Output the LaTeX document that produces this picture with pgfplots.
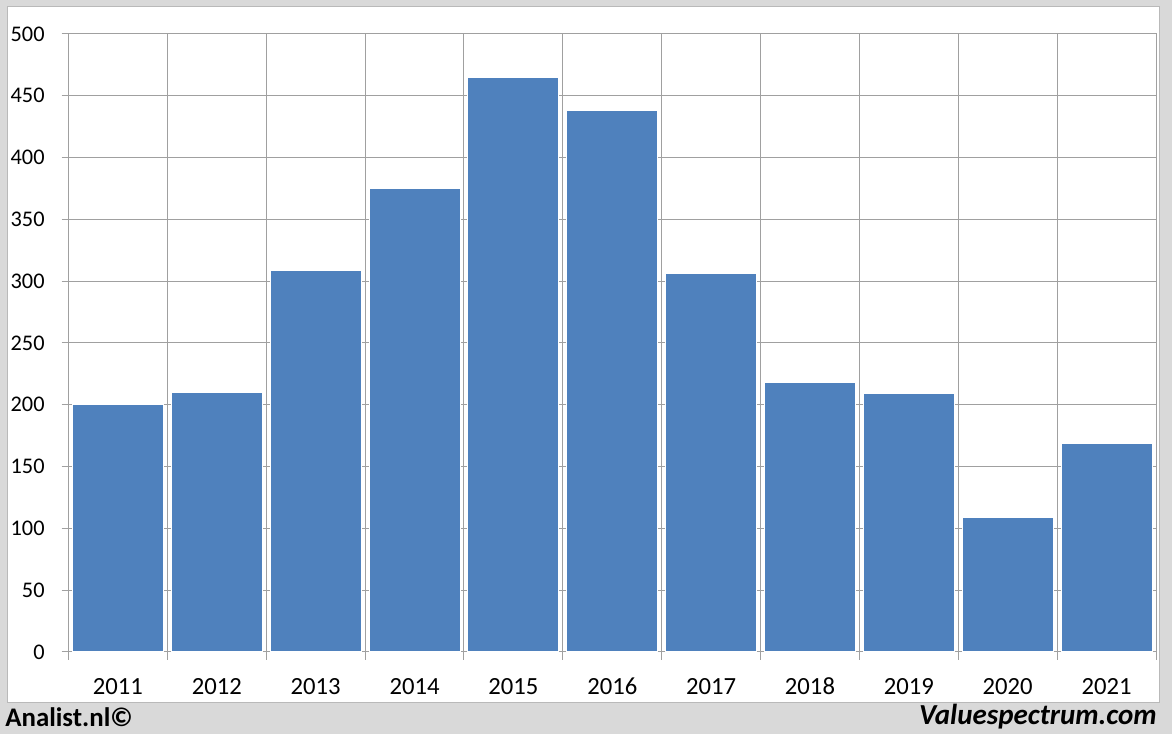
\documentclass[border=0pt]{standalone}
\usepackage{pgfplots}
\pgfplotsset{compat=1.18}
\usepackage{fontspec}
\setmainfont{Carlito}
\definecolor{barblue}{RGB}{79,129,189}
\definecolor{gridgray}{RGB}{160,160,160}
\definecolor{framegray}{RGB}{217,217,217}
\definecolor{edgegray}{RGB}{185,185,185}
\begin{document}
\begin{tikzpicture}
\fill[framegray] (0,0) rectangle (703.2pt,440.4pt);
\fill[white, draw=edgegray, line width=0.6pt] (4.2pt,18.6pt) rectangle (695.4pt,436.2pt);
\begin{axis}[
  at={(41.1pt,49.2pt)}, anchor=south west,
  scale only axis, width=652.5pt, height=370.8pt,
  xmin=-0.5, xmax=10.5, ymin=0, ymax=500,
  ybar, bar width=0.92,
  xtick={0,...,10},
  xticklabels={2011,2012,2013,2014,2015,2016,2017,2018,2019,2020,2021},
  minor xtick={-0.5,0.5,...,10.5},
  ytick={0,50,...,500},
  xminorgrids=true, ymajorgrids=true, xmajorgrids=false,
  minor x grid style={gridgray, line width=0.6pt},
  major y grid style={gridgray, line width=0.6pt},
  axis line style={gridgray, line width=0.6pt},
  tick align=outside, tick pos=left,
  major tick length=4.2pt, minor tick length=4.8pt,
  major x tick style={draw=none},
  every tick/.style={gridgray, line width=0.6pt},
  minor x tick style={gridgray, line width=0.6pt},
  /pgf/number format/assume math mode=true,
  yticklabel style={font=\fontsize{13.4}{15}\selectfont, black, xshift=-6.6pt},
  xticklabel style={font=\fontsize{14.8}{17}\selectfont, black, text height=10pt, text depth=0pt, yshift=-7.5pt},
]
\addplot[fill=barblue, draw=white, line width=0.6pt] coordinates {
  (0,200) (1,210) (2,309) (3,375) (4,465) (5,438)
  (6,306) (7,218) (8,209) (9,109) (10,169)
};
\end{axis}
\node[anchor=west, inner sep=0pt, font=\bfseries\fontsize{16.1}{19}\selectfont] at (3pt,10.2pt) {Analist.nl©};
\node[anchor=east, inner sep=0pt, font=\bfseries\itshape\fontsize{17.4}{20}\selectfont] at (694.2pt,10.2pt) {Valuespectrum.com};
\pgfresetboundingbox
\path (0,0) rectangle (703.2pt,440.4pt);
\end{tikzpicture}
\end{document}
